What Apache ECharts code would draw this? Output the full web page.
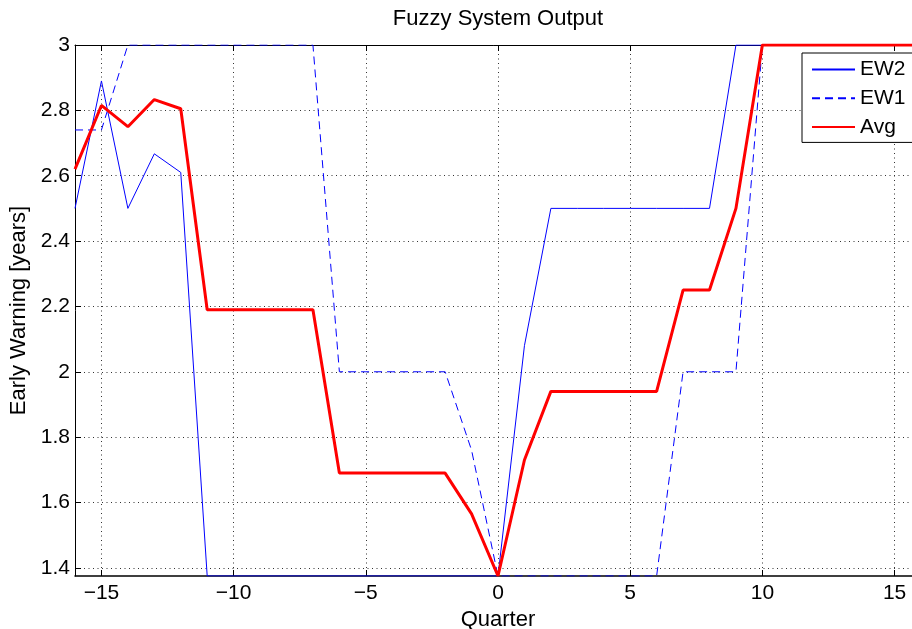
<!DOCTYPE html>
<html>
<head>
<meta charset="utf-8">
<script src="https://cdn.jsdelivr.net/npm/echarts@6/dist/echarts.min.js"></script>
<style>
html,body{margin:0;padding:0;background:#fff;}
#chart{width:912px;height:629px;}
</style>
</head>
<body>
<div id="chart"></div>
<script>
// Data
var quarters = [-16,-15,-14,-13,-12,-11,-10,-9,-8,-7,-6,-5,-4,-3,-2,-1,0,1,2,3,4,5,6,7,8,9,10,11,12,13,14,15,16];
var ew2 = [2.50,2.89,2.50,2.667,2.61,1.375,1.375,1.375,1.375,1.375,1.375,1.375,1.375,1.375,1.375,1.375,1.375,2.08,2.50,2.50,2.50,2.50,2.50,2.50,2.50,3.00,3.00,3.00,3.00,3.00,3.00,3.00,3.00];
var ew1 = [2.74,2.74,3.00,3.00,3.00,3.00,3.00,3.00,3.00,3.00,2.00,2.00,2.00,2.00,2.00,1.76,1.375,1.375,1.375,1.375,1.375,1.375,1.375,2.00,2.00,2.00,3.00,3.00,3.00,3.00,3.00,3.00,3.00];
var avg = [2.62,2.815,2.75,2.833,2.805,2.19,2.19,2.19,2.19,2.19,1.69,1.69,1.69,1.69,1.69,1.565,1.375,1.73,1.94,1.94,1.94,1.94,1.94,2.25,2.25,2.50,3.00,3.00,3.00,3.00,3.00,3.00,3.00];
var xTicks = [-15,-10,-5,0,5,10,15];
var yTicks = [1.4,1.6,1.8,2.0,2.2,2.4,2.6,2.8,3.0];
var seriesNames = ['EW2','EW1','Avg'];

function pairs(vals){ return quarters.map(function(q,i){ return [q, vals[i]]; }); }

var FONT = '"Liberation Sans", Arial, Helvetica, sans-serif';
var gridLine = {show:true, lineStyle:{color:'#333', width:1, type:[1,3.5]}};

var chart = echarts.init(document.getElementById('chart'), null, {renderer:'canvas'});
chart.setOption({
  animation:false,
  backgroundColor:'#fff',
  textStyle:{fontFamily:FONT},
  title:{
    text:'Fuzzy System Output',
    left:498, top:8, padding:0, textAlign:'center',
    textStyle:{fontFamily:FONT, fontSize:22, fontWeight:'normal', color:'#000'}
  },
  legend:{
    data:seriesNames,
    orient:'vertical',
    left:802, top:53,
    padding:[6,30,5,9],
    itemWidth:43, itemHeight:14, itemGap:7.7,
    itemStyle:{opacity:0},
    borderColor:'#000', borderWidth:1, backgroundColor:'#fff',
    textStyle:{fontFamily:FONT, fontSize:21, color:'#000', lineHeight:20}
  },
  grid:{left:75, width:846, top:45, bottom:53, outerBoundsMode:'none', containLabel:false},
  xAxis:[{
    type:'value', min:-16, max:16, position:'bottom',
    name:'Quarter', nameLocation:'middle', nameGap:28,
    nameTextStyle:{fontFamily:FONT, fontSize:22, color:'#000'},
    axisLine:{show:true, onZero:false, lineStyle:{color:'#000', width:1.5}},
    axisTick:{show:true, inside:true, length:6, customValues:xTicks, lineStyle:{color:'#000'}},
    axisLabel:{show:true, customValues:xTicks, fontFamily:FONT, fontSize:21, color:'#000', margin:7,
      formatter:function(v){ return v < 0 ? '\u2212' + Math.abs(v) : String(v); }},
    splitLine:gridLine
  },{
    type:'value', min:-16, max:16, position:'top',
    axisLine:{show:true, onZero:false, lineStyle:{color:'#000', width:1}},
    axisTick:{show:true, inside:true, length:6, customValues:xTicks, lineStyle:{color:'#000'}},
    axisLabel:{show:false},
    splitLine:{show:false}
  }],
  yAxis:[{
    type:'value', min:1.375, max:3, position:'left',
    name:'Early Warning [years]', nameLocation:'middle', nameGap:40, nameRotate:90,
    nameTextStyle:{fontFamily:FONT, fontSize:22, color:'#000'},
    axisLine:{show:true, onZero:false, lineStyle:{color:'#000', width:1}},
    axisTick:{show:true, inside:true, length:6, customValues:yTicks, lineStyle:{color:'#000'}},
    axisLabel:{show:true, customValues:yTicks, fontFamily:FONT, fontSize:21, color:'#000', margin:5,
      formatter:function(v){ return String(Math.round(v*10)/10); }},
    splitLine:gridLine
  },{
    type:'value', min:1.375, max:3, position:'right',
    axisLine:{show:true, onZero:false, lineStyle:{color:'#000', width:1}},
    axisTick:{show:true, inside:true, length:6, customValues:yTicks, lineStyle:{color:'#000'}},
    axisLabel:{show:false},
    splitLine:{show:false}
  }],
  series:[{
    name:'EW2', type:'line', data:pairs(ew2), symbol:'none', showSymbol:false,
    xAxisIndex:0, yAxisIndex:0,
    lineStyle:{color:'#0000ff', width:1}, itemStyle:{color:'#0000ff'}, z:2
  },{
    name:'EW1', type:'line', data:pairs(ew1), symbol:'none', showSymbol:false,
    xAxisIndex:0, yAxisIndex:0,
    lineStyle:{color:'#0000ff', width:1, type:[8,5]}, itemStyle:{color:'#0000ff'}, z:3
  },{
    name:'Avg', type:'line', data:pairs(avg), symbol:'none', showSymbol:false,
    xAxisIndex:0, yAxisIndex:0,
    lineStyle:{color:'#ff0000', width:3}, itemStyle:{color:'#ff0000'}, z:4
  }]
});
</script>
</body>
</html>
